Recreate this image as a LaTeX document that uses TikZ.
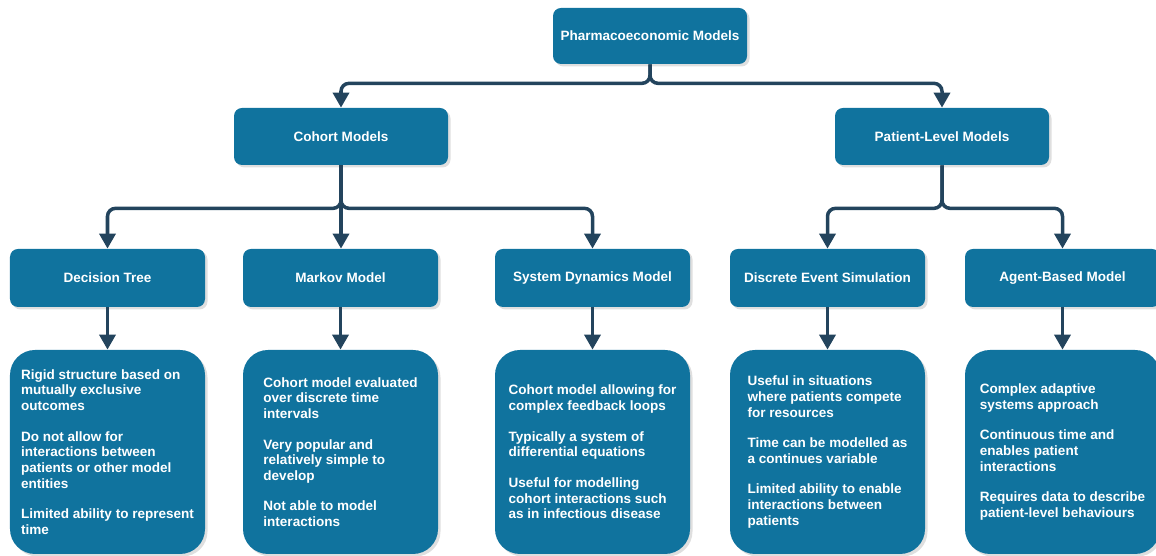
\documentclass[tikz,border=0pt]{standalone}
\usepackage{fontspec}
\setmainfont{Liberation Sans}
\definecolor{BoxBlue}{HTML}{10739E}
\definecolor{LineNavy}{HTML}{23445D}
\usepackage{tikz}
\usetikzlibrary{arrows.meta, positioning, shadows}

\begin{document}
\begin{tikzpicture}[
        box/.style={rectangle, rounded corners=0.16cm, fill=BoxBlue, text=white,
            font=\fontsize{7.7}{8.9}\selectfont\bfseries, minimum width=3.9cm, minimum height=1.16cm,
            drop shadow={shadow xshift=0.05cm, shadow yshift=-0.05cm, opacity=0.25}},
        infobox/.style={box, rounded corners=0.5cm, minimum height=4.08cm, align=left},
        arrow/.style={-{Triangle[length=0.3cm, width=0.32cm]}, line width=2pt, LineNavy, rounded corners=0.16cm}
    ]
        \useasboundingbox (0,0) rectangle (23.12,11.12);

        % Root and the two families
        \node[box, minimum width=3.88cm, minimum height=1.12cm] (pharma) at (13.0, 10.4) {Pharmacoeconomic Models};
        \node[box, minimum width=4.28cm, minimum height=1.14cm] (cohort) at (6.82, 8.39) {Cohort Models};
        \node[box, minimum width=4.28cm, minimum height=1.14cm] (patient) at (18.84, 8.39) {Patient-Level Models};
        \draw[arrow] (pharma.south) -- ++(0,-0.38) -| (cohort.north);
        \draw[arrow] (pharma.south) -- ++(0,-0.38) -| (patient.north);

        % Cohort model types
        \node[box] (dt) at (2.15, 5.56) {Decision Tree};
        \node[box] (mk) at (6.81, 5.56) {Markov Model};
        \node[box] (sd) at (11.85, 5.56) {System Dynamics Model};
        \draw[arrow] (cohort.south) -- ++(0,-0.86) -| (dt.north);
        \draw[arrow] (cohort.south) -- (cohort.south |- mk.north);
        \draw[arrow] (cohort.south) -- ++(0,-0.86) -| (sd.north);

        % Patient-level model types
        \node[box] (des) at (16.55, 5.56) {Discrete Event Simulation};
        \node[box] (abm) at (21.25, 5.56) {Agent-Based Model};
        \draw[arrow] (patient.south) -- ++(0,-0.86) -| (des.north);
        \draw[arrow] (patient.south) -- ++(0,-0.86) -| (abm.north);

        % Descriptions
        \node[infobox] (dtinfo) at (2.15, 2.08) {Rigid structure based on\\ mutually exclusive\\ outcomes\\[0.3cm]
            Do not allow for\\ interactions between\\ patients or other model\\ entities\\[0.3cm]
            Limited ability to represent\\ time};
        \node[infobox] (mkinfo) at (6.81, 2.08) {Cohort model evaluated\\ over discrete time\\ intervals\\[0.3cm]
            Very popular and\\ relatively simple to\\ develop\\[0.3cm]
            Not able to model\\ interactions};
        \node[infobox] (sdinfo) at (11.85, 2.08) {Cohort model allowing for\\ complex feedback loops\\[0.3cm]
            Typically a system of\\ differential equations\\[0.3cm]
            Useful for modelling\\ cohort interactions such\\ as in infectious disease};
        \node[infobox] (desinfo) at (16.55, 2.08) {Useful in situations\\ where patients compete\\ for resources\\[0.3cm]
            Time can be modelled as\\ a continues variable\\[0.3cm]
            Limited ability to enable\\ interactions between\\ patients};
        \node[infobox] (abminfo) at (21.25, 2.08) {Complex adaptive\\ systems approach\\[0.3cm]
            Continuous time and\\ enables patient\\ interactions\\[0.3cm]
            Requires data to describe\\ patient-level behaviours};
        \draw[arrow] (dt) -- (dtinfo);
        \draw[arrow] (mk) -- (mkinfo);
        \draw[arrow] (sd) -- (sdinfo);
        \draw[arrow] (des) -- (desinfo);
        \draw[arrow] (abm) -- (abminfo);
    \end{tikzpicture}
\end{document}
